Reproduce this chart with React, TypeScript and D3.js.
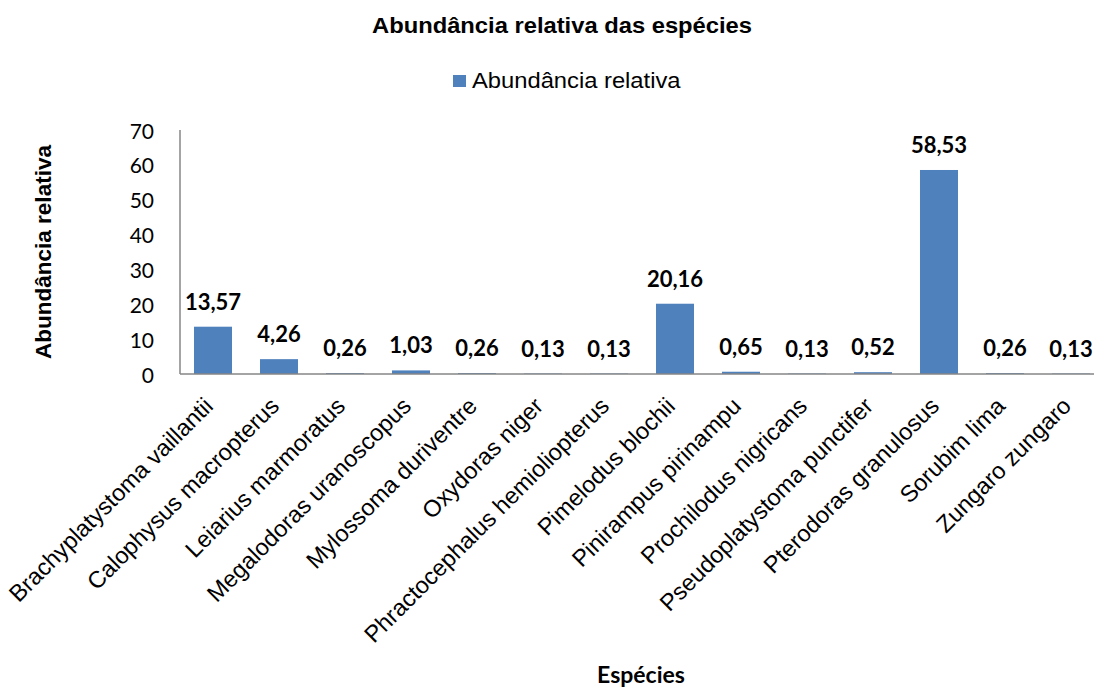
import React from "react";
import * as d3 from "d3";

const species = [
  "Brachyplatystoma vaillantii",
  "Calophysus macropterus",
  "Leiarius marmoratus",
  "Megalodoras uranoscopus",
  "Mylossoma duriventre",
  "Oxydoras niger",
  "Phractocephalus hemioliopterus",
  "Pimelodus blochii",
  "Pinirampus pirinampu",
  "Prochilodus nigricans",
  "Pseudoplatystoma punctifer",
  "Pterodoras granulosus",
  "Sorubim lima",
  "Zungaro zungaro",
];

const abundance = [13.57, 4.26, 0.26, 1.03, 0.26, 0.13, 0.13, 20.16, 0.65, 0.13, 0.52, 58.53, 0.26, 0.13];

const yTicks = [0, 10, 20, 30, 40, 50, 60, 70];

const chartTitle = "Abundância relativa das espécies";
const seriesName = "Abundância relativa";
const yTitle = "Abundância relativa";
const xTitle = "Espécies";

const W = 1094;
const H = 688;
const BAR = "#4F81BD";
const AXIS = "#868686";
const ARIAL = "'Liberation Sans', Arial, sans-serif";
const CAL = "Lato, 'Open Sans', sans-serif";

const fmt = (v: number) => v.toFixed(2).replace(".", ",");

export default function App() {
  const x = d3
    .scaleBand<string>()
    .domain(species)
    .range([180, 1104])
    .paddingInner(0.424)
    .paddingOuter(0.212);
  const y = d3.scaleLinear().domain([0, 70]).range([374, 130]);

  const rows = species.map((s, i) => ({ s, v: abundance[i] }));

  return (
    <svg
      width={W}
      height={H}
      style={{ position: "absolute", left: 0, top: 0, background: "#fff" }}
    >
      <rect width={W} height={H} fill="#fff" />
      {/* title */}
      <text
        transform={`translate(562,33) scale(1.08,1)`}
        textAnchor="middle"
        fontFamily={ARIAL}
        fontWeight="bold"
        fontSize={22}
        fill="#000"
      >
        {chartTitle}
      </text>

      {/* legend */}
      <rect x={453} y={75} width={13} height={12} fill={BAR} />
      <text
        transform={`translate(472,87.5) scale(1.08,1)`}
        fontFamily={ARIAL}
        fontSize={22}
        fill="#000"
      >
        {seriesName}
      </text>

      {/* y axis */}
      <line x1={180} x2={180} y1={y(70)} y2={y(0)} stroke={AXIS} strokeWidth={1.5} />
      {yTicks.map((t) => (
        <text
          key={t}
          x={154}
          y={y(t)}
          textAnchor="end"
          dominantBaseline="central"
          fontFamily={CAL}
          fontSize={21}
          fill="#000"
        >
          {t}
        </text>
      ))}
      <text
        transform={`translate(51,252) rotate(-90)`}
        textAnchor="middle"
        fontFamily={ARIAL}
        fontWeight="bold"
        fontSize={22.5}
        fill="#000"
      >
        {yTitle}
      </text>

      {/* bars */}
      {rows.map((r) => (
        <rect
          key={r.s}
          x={x(r.s)}
          y={y(r.v)}
          width={x.bandwidth()}
          height={y(0) - y(r.v)}
          fill={BAR}
        />
      ))}

      {/* x axis baseline */}
      <line x1={180} x2={W} y1={y(0)} y2={y(0)} stroke={AXIS} strokeWidth={1.5} />

      {/* value labels */}
      {rows.map((r) => (
        <text
          key={r.s}
          x={(x(r.s) as number) + x.bandwidth() / 2}
          y={y(r.v) - 17}
          textAnchor="middle"
          fontFamily={CAL}
          fontWeight="bold"
          fontSize={22}
          fill="#000"
        >
          {fmt(r.v)}
        </text>
      ))}

      {/* category labels */}
      {rows.map((r) => {
        const cx = (x(r.s) as number) + x.bandwidth() / 2;
        return (
          <text
            key={r.s}
            transform={`translate(${cx + 1.5},${y(0) + 33.5}) rotate(-45)`}
            textAnchor="end"
            fontFamily={ARIAL}
            fontSize={23.5}
            fill="#000"
          >
            {r.s}
          </text>
        );
      })}

      {/* x title */}
      <text
        x={641}
        y={683}
        textAnchor="middle"
        fontFamily={CAL}
        fontWeight="bold"
        fontSize={23}
        fill="#000"
      >
        {xTitle}
      </text>
    </svg>
  );
}
